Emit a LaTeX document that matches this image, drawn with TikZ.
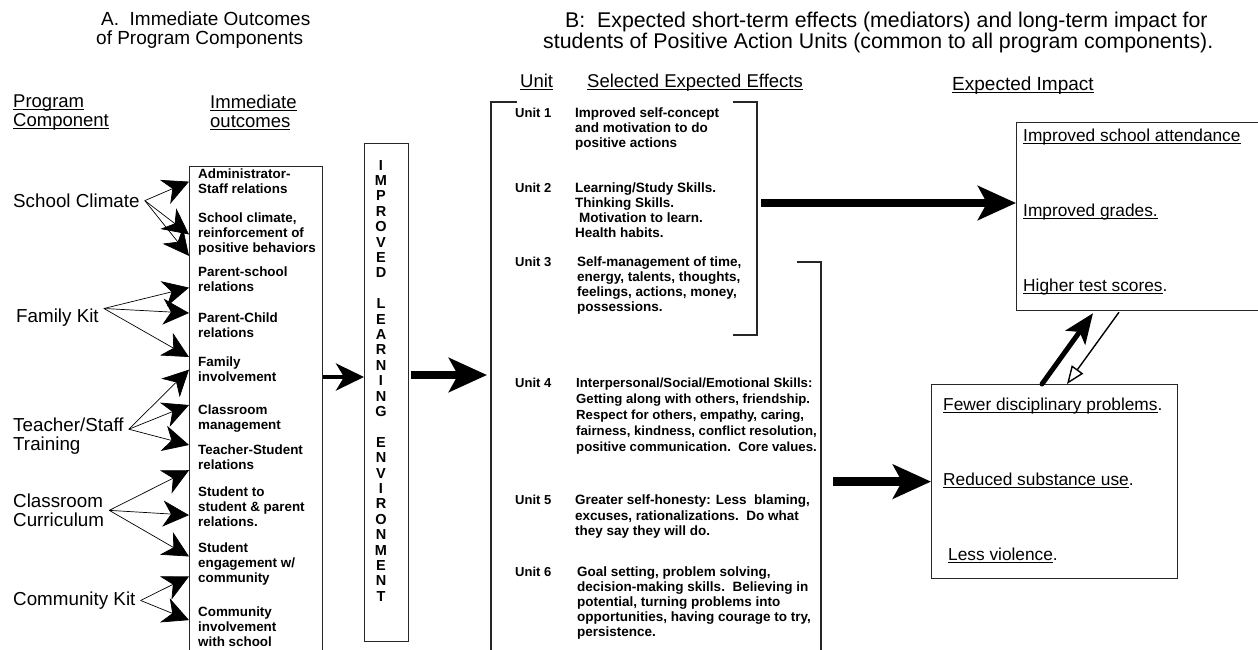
\documentclass[tikz,border=0pt]{standalone}
\usepackage{fontspec}
\setmainfont{Liberation Sans}
\usetikzlibrary{arrows.meta}

% underline that runs through the descenders, as in the figure
\newcommand\undl[1]{\setbox0\hbox{#1}\rlap{\rule[-2.4pt]{\wd0}{1.1pt}}\box0}

\tikzset{
  frame/.style={draw=black!85, line width=1.2pt},
  ttl/.style={anchor=north west, align=left, inner sep=0pt},
  head/.style={anchor=north west, align=left, inner sep=0pt, font=\fontsize{18.5}{19}\selectfont},
  comp/.style={anchor=north west, align=left, inner xsep=5pt, inner ysep=0pt, font=\fontsize{18.8}{19.5}\selectfont},
  outc/.style={anchor=north west, align=left, inner xsep=9pt, inner ysep=0pt, font=\fontsize{13.4}{15}\selectfont\bfseries},
  unitno/.style={anchor=north west, inner sep=0pt, font=\fontsize{13}{15}\selectfont\bfseries},
  effect/.style={anchor=north west, align=left, inner sep=0pt, font=\fontsize{13.5}{15}\selectfont\bfseries},
  impact/.style={anchor=north west, inner sep=0pt, font=\fontsize{17.3}{20}\selectfont},
  feed/.style={-{Stealth[length=26pt,width=26pt,inset=8pt]}, line width=0.7pt},
  midarrow/.style={-{Stealth[length=28pt,width=27pt,inset=8pt]}, line width=4pt},
  bigarrow/.style={-{Stealth[length=38pt,width=34pt,inset=9pt]}, line width=8.5pt},
}

\begin{document}
\begin{tikzpicture}[x=1pt,y=-1pt]
\useasboundingbox (0,0) rectangle (1258,650);

% titles
\node[ttl, font=\fontsize{19}{19}\selectfont] (ttlA) at (96,12) {\hspace*{5pt}A.\ \ Immediate Outcomes\\of Program Components};
\node[ttl, font=\fontsize{21.3}{19}\selectfont] (ttlB) at (543,12) {\hspace*{22pt}B:\ \ Expected short-term effects (mediators) and long-term impact for\\students of Positive Action Units (common to all program components).};

% column heads
\node[head] (hprog) at (13,95) {\undl{Program}\\\undl{Component}};
\node[head] (hout) at (210,95) {\undl{Immediate}\\\undl{outcomes}};
\node[head] (hunit) at (520,74) {\undl{Unit}};
\node[head] (heff) at (587,74) {\undl{Selected Expected Effects}};
\node[head, font=\fontsize{19}{19}\selectfont] (himp) at (952,77) {\undl{Expected Impact}};

% program components
\node[comp] (sc) at (8,193.5) {School Climate};
\node[comp] (fk) at (11,308.5) {Family Kit};
\node[comp] (ts) at (8,417.5) {Teacher/Staff\\Training};
\node[comp] (cc) at (8,493.5) {Classroom\\Curriculum};
\node[comp] (ck) at (8,591.5) {Community Kit};

% immediate outcomes
\node[frame, anchor=north west, minimum width=133pt, minimum height=500pt, inner sep=0pt] (obox) at (189,166) {};
\node[outc] (oc1) at (189,169) {Administrator-\\Staff relations};
\node[outc] (oc2) at (189,213) {School climate,\\reinforcement of\\positive behaviors};
\node[outc] (oc3) at (189,267) {Parent-school\\relations};
\node[outc] (oc4) at (189,313) {Parent-Child\\relations};
\node[outc] (oc5) at (189,357) {Family\\involvement};
\node[outc] (oc6) at (189,405) {Classroom\\management};
\node[outc] (oc7) at (189,445) {Teacher-Student\\relations};
\node[outc] (oc8) at (189,487) {Student to\\student \& parent\\relations.};
\node[outc] (oc9) at (189,543) {Student\\engagement w/\\community};
\node[outc] (oc10) at (189,607) {Community\\involvement\\with school};

\draw[feed] (sc.east) -- (oc1.west);
\draw[feed] (sc.east) -- (oc2.west);
\draw[feed] (sc.east) -- (oc2.south west);
\draw[feed] (fk.north east) -- ([yshift=-8pt]oc3.west);
\draw[feed] (fk.north east) -- (oc4.north west);
\draw[feed] (fk.north east) -- (oc5.north west);
\draw[feed] ([yshift=7pt]ts.east) -- (oc5.west);
\draw[feed] ([yshift=7pt]ts.east) -- (oc6.north west);
\draw[feed] ([yshift=7pt]ts.east) -- (oc7.north west);
\draw[feed] (cc.east) -- (oc7.south west);
\draw[feed] (cc.east) -- ([yshift=-8pt]oc8.west);
\draw[feed] (cc.east) -- ([yshift=8pt]oc9.west);
\draw[feed] (ck.east) -- ([yshift=-12pt]oc9.west);
\draw[feed] (ck.east) -- ([yshift=7pt]oc10.west);

% improved learning environment
\node[frame, anchor=north west, minimum width=44pt, minimum height=498pt, inner sep=0pt] (ile) at (364,143) {};
\node[anchor=north, align=center, inner sep=0pt, font=\fontsize{14.5}{15.4}\selectfont\bfseries] (ilet) at (381,160)
  {I\\M\\P\\R\\O\\V\\E\\D\\[15.4pt]L\\E\\A\\R\\N\\I\\N\\G\\[15.4pt]E\\N\\V\\I\\R\\O\\N\\M\\E\\N\\T};

% units
\draw[frame] (517,102) -- (491,102) coordinate (uleft) -- (491,660);
\draw[frame] (733,102) -- (757,102) coordinate (br1) -- (757,335) -- (733,335);
\draw[frame] (797,262) -- (821,262) coordinate (br2) -- (821,660);

\node[unitno] (u1) at (515,108) {Unit 1};
\node[effect] (e1) at (575,108) {Improved self-concept\\and motivation to do\\positive actions};
\node[unitno] (u2) at (515,183) {Unit 2};
\node[effect] (e2) at (575,183) {Learning/Study Skills.\\Thinking Skills.\\\hspace*{4pt}Motivation to learn.\\Health habits.};
\node[unitno] (u3) at (515,257) {Unit 3};
\node[effect] (e3) at (577,257) {Self-management of time,\\energy, talents, thoughts,\\feelings, actions, money,\\possessions.};
\node[unitno] (u4) at (515,378) {Unit 4};
\node[effect, font=\fontsize{13.2}{16}\selectfont\bfseries] (e4) at (576,378) {Interpersonal/Social/Emotional Skills:\\Getting along with others, friendship.\\Respect for others, empathy, caring,\\fairness, kindness, conflict resolution,\\positive communication.\ \ Core values.};
\node[unitno] (u5) at (515,495) {Unit 5};
\node[effect, font=\fontsize{13.5}{15.5}\selectfont\bfseries] (e5) at (575,495) {Greater self-honesty: Less\ \ blaming,\\excuses, rationalizations.\ \ Do what\\they say they will do.};
\node[unitno] (u6) at (515,567) {Unit 6};
\node[effect] (e6) at (577,567) {Goal setting, problem solving,\\decision-making skills.\ \ Believing in\\potential, turning problems into\\opportunities, having courage to try,\\persistence.};

% expected impact
\node[frame, anchor=north west, minimum width=262pt, minimum height=188pt, inner sep=0pt] (ibox) at (1016,122) {};
\node[impact] (im1) at (1023,129) {\undl{Improved school attendance}};
\node[impact] (im2) at (1023,204) {\undl{Improved grades.}};
\node[impact] (im3) at (1023,279) {\undl{Higher test scores}.};
\node[frame, anchor=north west, minimum width=246pt, minimum height=194pt, inner sep=0pt] (lbox) at (931,384) {};
\node[impact] (im4) at (943,398) {\undl{Fewer disciplinary problems}.};
\node[impact] (im5) at (943,473) {\undl{Reduced substance use}.};
\node[impact] (im6) at (948,548) {\undl{Less violence}.};

% main flow
\coordinate (lvl1) at (0,377);
\coordinate (lvl2) at (0,375);
\coordinate (lvl3) at (0,203);
\draw[midarrow] (obox.east |- lvl1) -- (ile.west |- lvl1);
\draw[bigarrow] ([xshift=2pt]ile.east |- lvl2) -- ([xshift=-4pt]uleft |- lvl2);
\draw[bigarrow] ([xshift=4pt]br1 |- lvl3) -- (ibox.west |- lvl3);
\draw[bigarrow] ([xshift=12pt]br2 |- lbox.west) -- (lbox.west);

% two-way link between impacts
\draw[line width=5pt, line cap=round, -{Stealth[length=30pt,width=24pt,inset=7pt]}] ([xshift=111pt]lbox.north west) -- ([xshift=77pt,yshift=-2pt]ibox.south west);
\draw[line width=1.4pt, -{Triangle[open,fill=white,length=18pt,width=14pt]}] ([xshift=103pt,yshift=-1pt]ibox.south west) -- ([xshift=136pt]lbox.north west);
\end{tikzpicture}
\end{document}
